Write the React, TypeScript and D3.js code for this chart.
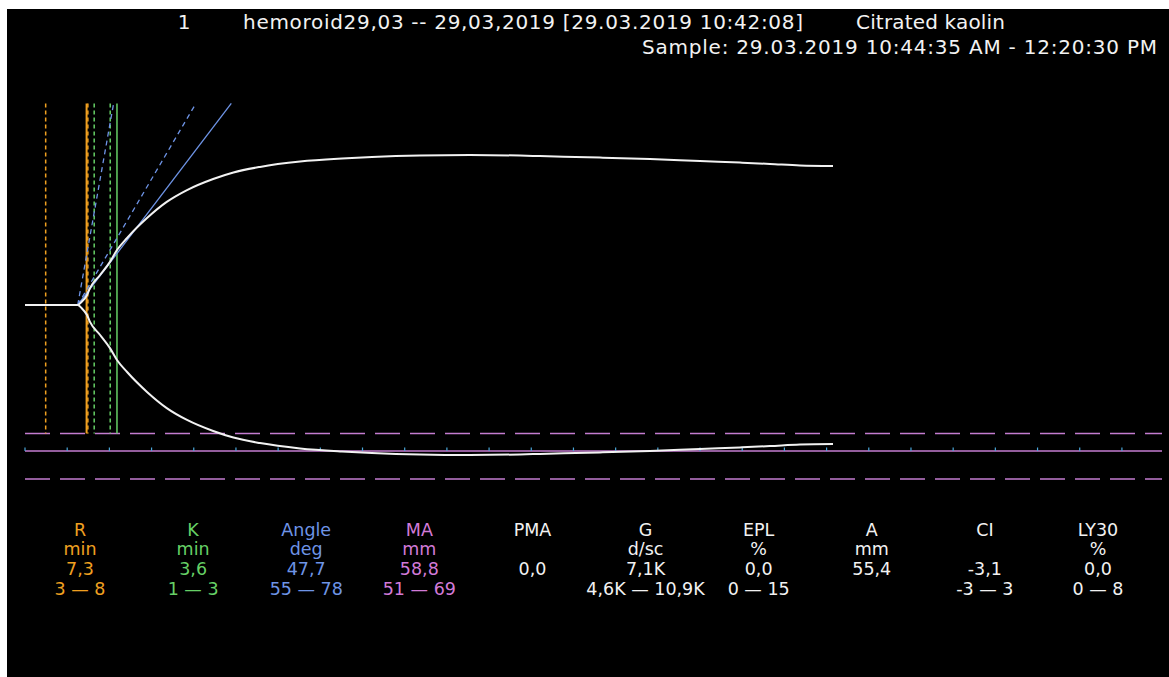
import React from "react";
import * as d3 from "d3";

// ---- data ----
const timeMin = [0, 6.25, 6.7, 7.35, 7.7, 8.9, 10.07, 10.9, 12.1, 14.46, 16.8, 19.2, 22.3, 24.7, 27.85, 32.6, 37.57, 41.12, 46.81, 52.74, 58.66, 61.03, 68.14, 74.07, 80.0, 84.74, 88.29, 91.85, 95.76];
const amplitudeMm = [0, 0, 1.2, 4.0, 6.7, 11.9, 17.1, 21.8, 26.6, 34.5, 40.9, 45.6, 50.0, 52.6, 54.8, 56.9, 58.1, 58.7, 59.3, 59.5, 59.3, 59.1, 58.5, 57.9, 57.1, 56.5, 56.0, 55.4, 55.2];

const axisTicksMin = d3.range(0, 131, 5);

const markerTimes = [2.45, 7.45, 7.3, 8.2, 10.1, 10.9];
const markerKinds = ["rRange", "rRange", "r", "kRange", "kRange", "k"];

const angleDeg = [78, 55, 47.7];
const angleKinds = ["range", "range", "value"];

const maRangeMm = [51, 69];

const paramNames = ["R", "K", "Angle", "MA", "PMA", "G", "EPL", "A", "CI", "LY30"];
const paramUnits = ["min", "min", "deg", "mm", "", "d/sc", "%", "mm", "", "%"];
const paramValues = ["7,3", "3,6", "47,7", "58,8", "0,0", "7,1K", "0,0", "55,4", "-3,1", "0,0"];
const paramRanges = ["3 — 8", "1 — 3", "55 — 78", "51 — 69", "", "4,6K — 10,9K", "0 — 15", "", "-3 — 3", "0 — 8"];

const headerIndex = "1";
const headerTitle = "hemoroid29,03 -- 29,03,2019 [29.03.2019 10:42:08]";
const headerReagent = "Citrated kaolin";
const headerSample = "Sample: 29.03.2019 10:44:35 AM - 12:20:30 PM";

// ---- styles ----
const ORANGE = "#f0a020";
const GREEN = "#66d066";
const BLUE = "#6e94e6";
const MAGENTA = "#d27ad8";
const PURPLE = "#c47cd0";
const TICK = "#4aa6d8";
const WHITE = "#f2f2f2";
const FONT = "'DejaVu Sans', Verdana, sans-serif";

const colColors = [ORANGE, GREEN, BLUE, MAGENTA, WHITE, WHITE, WHITE, WHITE, WHITE, WHITE];

export default function App() {
  const W = 1169;
  const H = 677;

  const x = d3.scaleLinear().domain([0, 134.75]).range([25, 1162]);
  const y = d3.scaleLinear().domain([-80, 80]).range([305 + 80 * 2.52, 305 - 80 * 2.52]);
  const AXIS_Y = 451;

  const pivotT = 6.25;
  const TOP_AMP = 80;

  const upper = d3
    .line<number>()
    .x((_, i) => x(timeMin[i]))
    .y((d) => y(d))
    .curve(d3.curveMonotoneX)(amplitudeMm) as string;
  const lower = d3
    .line<number>()
    .x((_, i) => x(timeMin[i]))
    .y((d) => y(-d))
    .curve(d3.curveMonotoneX)(amplitudeMm) as string;

  const markerStyle = (k: string) => {
    if (k === "rRange") return { stroke: ORANGE, dash: "4 3", w: 1.5 };
    if (k === "r") return { stroke: ORANGE, dash: "", w: 2 };
    if (k === "kRange") return { stroke: GREEN, dash: "4 3", w: 1.5 };
    return { stroke: GREEN, dash: "", w: 1.5 };
  };

  const colX = d3.scalePoint<string>().domain(paramNames).range([80, 1098]);
  const rowY = [536, 555, 575, 595];

  return (
    <svg
      width={W}
      height={H}
      style={{ position: "absolute", left: 0, top: 0, display: "block" }}
      fontFamily={FONT}
    >
      <rect x={0} y={0} width={W} height={H} fill="#ffffff" />
      <rect x={7} y={9} width={W - 7} height={H - 9} fill="#000000" />

      {/* header */}
      <text x={184} y={29} fill={WHITE} fontSize={20} textAnchor="middle">{headerIndex}</text>
      <text x={243} y={29} fill={WHITE} fontSize={20} textLength={560} lengthAdjust="spacing">{headerTitle}</text>
      <text x={856} y={29} fill={WHITE} fontSize={20} textLength={149} lengthAdjust="spacing">{headerReagent}</text>
      <text x={642} y={54} fill={WHITE} fontSize={20} textLength={515} lengthAdjust="spacing">{headerSample}</text>

      {/* MA range dashed lines */}
      {maRangeMm.map((m, i) => (
        <line key={"ma" + i} x1={x(0)} x2={x(134.75)} y1={y(-m)} y2={y(-m)} stroke={PURPLE} strokeWidth={1.5} strokeDasharray="25 10" />
      ))}
      {/* time axis */}
      <line x1={x(0)} x2={x(134.75)} y1={AXIS_Y} y2={AXIS_Y} stroke={PURPLE} strokeWidth={1.5} />
      {axisTicksMin.map((t) => (
        <line key={"t" + t} x1={x(t)} x2={x(t)} y1={AXIS_Y - 3.5} y2={AXIS_Y} stroke={TICK} strokeWidth={1.2} />
      ))}

      {/* vertical markers */}
      {markerTimes.map((t, i) => {
        const s = markerStyle(markerKinds[i]);
        return (
          <line key={"m" + i} x1={x(t)} x2={x(t)} y1={y(TOP_AMP)} y2={y(-maRangeMm[0])} stroke={s.stroke} strokeWidth={s.w} strokeDasharray={s.dash || undefined} />
        );
      })}

      {/* angle lines */}
      {angleDeg.map((a, i) => {
        const slope = 4 * Math.tan((a * Math.PI) / 180); // mm per min
        const tEnd = pivotT + TOP_AMP / slope;
        return (
          <line key={"a" + i} x1={x(pivotT)} y1={y(0)} x2={x(tEnd)} y2={y(TOP_AMP)} stroke={BLUE} strokeWidth={1.3} strokeDasharray={angleKinds[i] === "range" ? "5 4" : undefined} />
        );
      })}

      {/* trace */}
      <path d={upper} fill="none" stroke={WHITE} strokeWidth={2} />
      <path d={lower} fill="none" stroke={WHITE} strokeWidth={2} />

      {/* parameter table */}
      {paramNames.map((n, i) => {
        const cx = colX(n) as number;
        const c = colColors[i];
        const rows = [n, paramUnits[i], paramValues[i], paramRanges[i]];
        return (
          <g key={"p" + n}>
            {rows.map((r, j) =>
              r ? (
                <text key={j} x={cx} y={rowY[j]} fill={c} fontSize={17.5} textAnchor="middle">{r}</text>
              ) : null
            )}
          </g>
        );
      })}
    </svg>
  );
}
